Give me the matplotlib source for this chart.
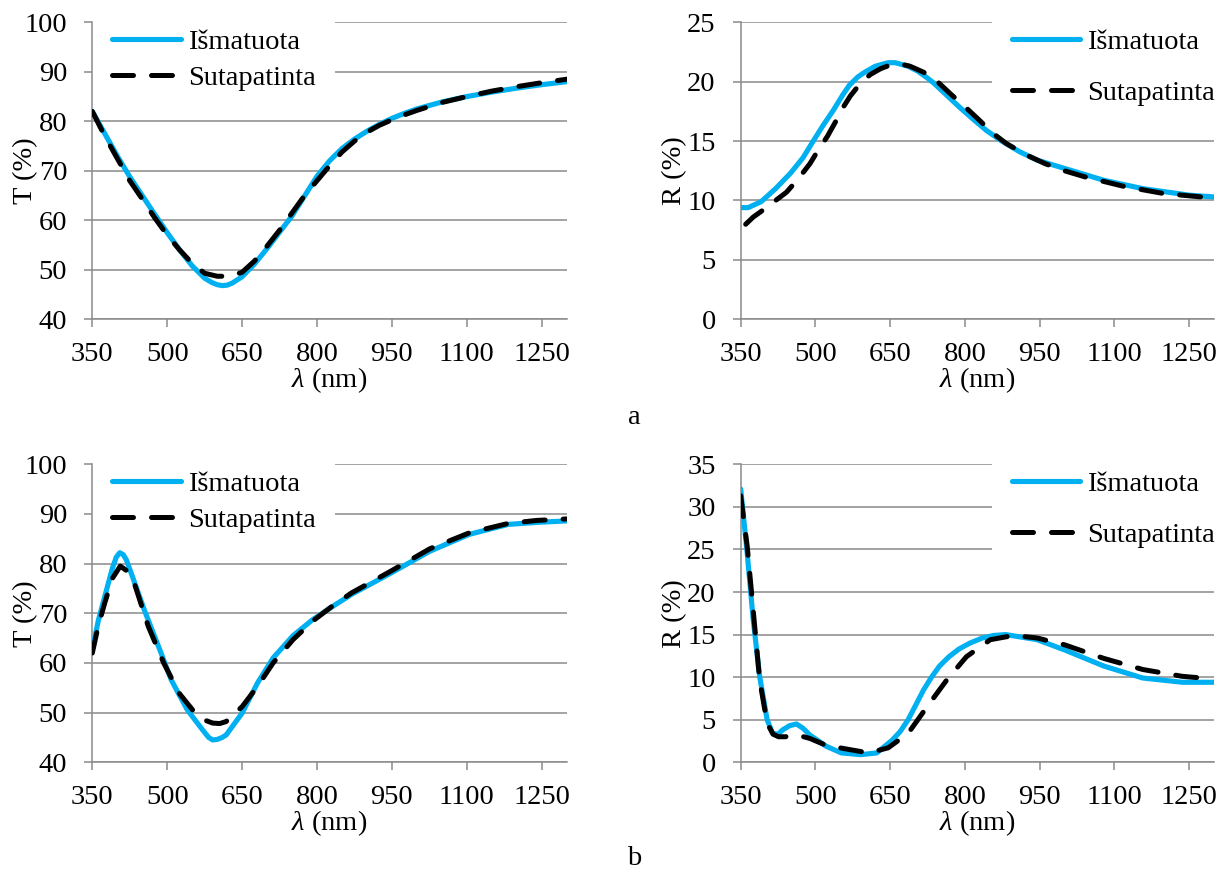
import matplotlib
matplotlib.use("Agg")
import matplotlib.pyplot as plt

plt.rcParams['font.family'] = ['Liberation Serif', 'DejaVu Serif']
plt.rcParams['mathtext.fontset'] = 'custom'
plt.rcParams['mathtext.rm'] = 'Liberation Serif'
plt.rcParams['mathtext.it'] = 'Liberation Serif:italic'

# ---------------- data ----------------
labels = ["Išmatuota", "Sutapatinta"]
xticks = [350, 500, 650, 800, 950, 1100, 1250]

# (a) transmittance
ta_meas_x = [350, 375, 400, 425, 450, 475, 500, 525, 550, 575, 590, 600, 610, 620, 630, 650, 675, 700, 725, 750,
             775, 800, 825, 850, 875, 900, 925, 950, 975, 1000, 1050, 1100, 1150, 1200, 1250, 1300]
ta_meas_y = [82.0, 77.5, 73.0, 68.8, 65.0, 61.2, 57.5, 54.0, 50.8, 48.3, 47.4, 47.0, 46.8, 46.9, 47.3, 48.6, 51.2,
             54.3, 57.6, 60.9, 64.9, 68.9, 72.0, 74.5, 76.4, 78.0, 79.4, 80.6, 81.6, 82.5, 83.9, 85.0, 85.9, 86.7,
             87.4, 88.0]
ta_fit_x = [350, 375, 400, 425, 450, 475, 500, 525, 550, 575, 600, 625, 650, 675, 700, 725, 750, 775, 800,
            825, 850, 875, 900, 925, 950, 975, 1000, 1050, 1100, 1150, 1200, 1250, 1300]
ta_fit_y = [82.0, 77.0, 72.5, 68.0, 64.3, 60.5, 57.0, 54.0, 51.3, 49.3, 48.7, 48.7, 49.5, 51.8, 54.8, 58.0, 61.5,
            65.0, 68.0, 71.0, 73.8, 76.0, 77.8, 79.2, 80.3, 81.3, 82.2, 83.8, 85.0, 86.1, 87.0, 87.8, 88.5]

# (a) reflectance
ra_meas_x = [350, 365, 391, 420, 450, 475, 497, 515, 536, 555, 568, 585, 599, 620, 646, 660, 686, 705, 725, 737,
             760, 788, 815, 843, 874, 910, 945, 1000, 1079, 1157, 1250, 1300]
ra_meas_y = [9.4, 9.4, 9.9, 11.0, 12.3, 13.6, 15.1, 16.3, 17.6, 18.9, 19.7, 20.4, 20.8, 21.3, 21.6, 21.6, 21.3, 20.9,
             20.3, 19.9, 19.0, 17.9, 16.9, 15.9, 15.0, 14.1, 13.4, 12.7, 11.7, 11.0, 10.45, 10.3]
ra_fit_x = [360, 375, 395, 420, 442, 465, 489, 505, 524, 540, 552, 570, 591, 610, 631, 650, 670, 690, 717, 745,
            773, 800, 828, 855, 883, 920, 961, 1000, 1040, 1118, 1197, 1300]
ra_fit_y = [8.0, 8.6, 9.2, 10.0, 10.7, 11.8, 13.1, 14.2, 15.4, 16.6, 17.6, 18.8, 19.9, 20.6, 21.1, 21.4, 21.5, 21.3,
            20.8, 20.0, 18.9, 17.9, 16.8, 15.7, 14.8, 13.9, 13.1, 12.5, 12.0, 11.2, 10.6, 10.2]

# (b) transmittance
tb_meas_x = [350, 362, 375, 390, 398, 405, 412, 418, 430, 454, 485, 508, 540, 571, 583, 591, 600, 610, 618, 650,
             681, 712, 752, 791, 830, 869, 948, 1026, 1105, 1183, 1240, 1300]
tb_meas_y = [62.7, 68.5, 73.4, 79.0, 81.3, 82.2, 81.8, 80.8, 77.5, 70.7, 62.7, 56.6, 50.6, 46.5, 45.0, 44.5, 44.6,
             45.0, 45.5, 49.9, 56.0, 61.0, 65.5, 68.7, 71.3, 73.8, 78.1, 82.5, 85.9, 87.9, 88.3, 88.6]
tb_fit_x = [350, 362, 375, 390, 406, 420, 434, 462, 493, 524, 556, 575, 591, 605, 618, 650, 681, 712, 752, 791,
            830, 869, 948, 1026, 1105, 1183, 1240, 1300]
tb_fit_y = [62.0, 67.5, 72.1, 77.0, 79.5, 78.5, 76.1, 67.4, 60.0, 53.9, 49.9, 48.5, 47.9, 47.8, 48.2, 51.2, 55.3,
            60.0, 64.7, 68.4, 71.4, 74.1, 78.5, 83.0, 86.2, 88.1, 88.7, 89.0]

# (b) reflectance
rb_meas_x = [350, 363, 375, 388, 403, 414, 425, 434, 448, 462, 475, 489, 521, 552, 591, 623, 654, 670, 686, 702,
             717, 733, 749, 768, 788, 810, 835, 858, 882, 945, 1000, 1079, 1157, 1236, 1300]
rb_meas_y = [32.1, 24.6, 16.8, 10.1, 5.0, 3.4, 3.3, 3.8, 4.3, 4.5, 4.0, 3.2, 1.9, 1.1, 0.9, 1.1, 2.6, 3.6, 5.0, 6.8,
             8.5, 10.0, 11.3, 12.4, 13.3, 14.0, 14.6, 14.9, 15.0, 14.4, 13.2, 11.3, 9.9, 9.4, 9.4]
rb_fit_x = [350, 363, 375, 388, 403, 415, 426, 440, 453, 470, 489, 521, 568, 607, 646, 686, 725, 764, 803, 851,
            898, 945, 1000, 1079, 1157, 1236, 1275]
rb_fit_y = [31.3, 25.4, 17.9, 9.7, 4.6, 3.3, 3.0, 3.0, 3.2, 3.1, 2.8, 2.0, 1.5, 1.1, 1.7, 3.4, 6.6, 9.7, 12.4,
            14.4, 14.9, 14.6, 13.8, 12.2, 10.9, 10.1, 9.9]

# ---------------- styling ----------------
W, H = 1228, 872
FS = 20.5
GRID = '#8a8a8a'
BLUE = '#00b0f0'

fig = plt.figure(figsize=(W / 100, H / 100), dpi=100)


def px_axes(left, top, right, bottom):
    ax = fig.add_axes([left / W, 1 - bottom / H, (right - left) / W, (bottom - top) / H])
    ax._pxw = right - left
    ax._pxh = bottom - top
    return ax


def style(ax, ylim, ystep, ylabel):
    ax.set_xlim(350, 1300)
    ax.set_ylim(*ylim)
    ax.set_xticks(xticks)
    ax.set_yticks(range(ylim[0], ylim[1] + 1, ystep))
    for s in ['top', 'right']:
        ax.spines[s].set_visible(False)
    for s in ['left', 'bottom']:
        ax.spines[s].set_color(GRID)
        ax.spines[s].set_linewidth(1.1)
        ax.spines[s].set_zorder(2.8)
    ax.grid(axis='y', color=GRID, linewidth=1.1)
    ax.set_axisbelow(True)
    ax.tick_params(axis='both', colors=GRID, labelcolor='black', labelsize=FS, length=6, width=1.1, direction='out')
    ax.tick_params(axis='y', pad=12)
    ax.tick_params(axis='x', pad=10)
    ax.set_xlabel(r'$\mathit{\lambda}$ (nm)', fontsize=FS)
    ax.xaxis.label.set_va('center')
    ax.xaxis.set_label_coords(0.5, -(380 - 319.3) / ax._pxh)
    ax.set_ylabel(ylabel, fontsize=FS)
    ax.yaxis.label.set_va('center')
    ax.yaxis.set_label_coords(-66.5 / ax._pxw, 0.5)


def draw(ax, mx, my, fx, fy):
    ax.plot(mx, my, color=BLUE, linewidth=3.7, solid_capstyle='round', solid_joinstyle='round',
            label=labels[0], zorder=3)
    ax.plot(fx, fy, color='black', linewidth=3.6, linestyle=(0, (4.2, 3.6)), dash_capstyle='round',
            dash_joinstyle='round', label=labels[1], zorder=4)


ax1 = px_axes(92.3, 22.3, 566.7, 319.3)
draw(ax1, ta_meas_x, ta_meas_y, ta_fit_x, ta_fit_y)
style(ax1, (40, 100), 10, 'T (%)')

ax2 = px_axes(740.7, 22.3, 1214, 319.3)
draw(ax2, ra_meas_x, ra_meas_y, ra_fit_x, ra_fit_y)
style(ax2, (0, 25), 5, 'R (%)')

ax3 = px_axes(92.3, 464.3, 566.7, 762.3)
draw(ax3, tb_meas_x, tb_meas_y, tb_fit_x, tb_fit_y)
style(ax3, (40, 100), 10, 'T (%)')

ax4 = px_axes(740.7, 464.3, 1214, 762.3)
draw(ax4, rb_meas_x, rb_meas_y, rb_fit_x, rb_fit_y)
style(ax4, (0, 35), 5, 'R (%)')


def legend(ax, loc, anchor, spacing):
    lg = ax.legend(loc=loc, bbox_to_anchor=anchor, fontsize=FS, frameon=True, fancybox=False,
                   handlelength=2.4, handletextpad=0.25, labelspacing=spacing, borderpad=0.7,
                   borderaxespad=0.0)
    fr = lg.get_frame()
    fr.set_facecolor('white')
    fr.set_edgecolor('none')
    fr.set_alpha(1)
    lg.set_zorder(2.6)
    return lg


legend(ax1, 'upper left', (0.0, 1.045), 0.37)
legend(ax3, 'upper left', (0.0, 1.045), 0.37)
legend(ax2, 'upper right', (1.044, 1.045), 0.9)
legend(ax4, 'upper right', (1.044, 1.045), 0.9)

fig.text(634 / W, 1 - 418 / H, 'a', fontsize=FS, ha='center', va='center')
fig.text(634 / W, 1 - 858 / H, 'b', fontsize=FS, ha='center', va='center')

fig.savefig('out.png', dpi=100)
